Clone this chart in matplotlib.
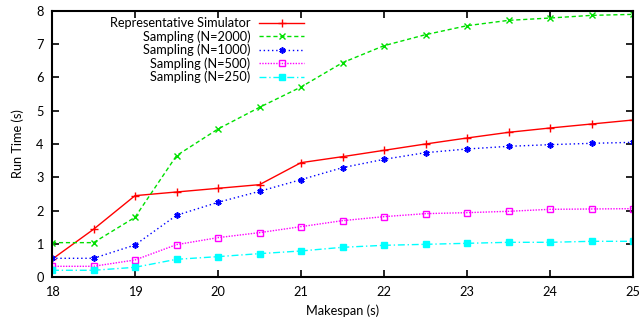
import matplotlib
matplotlib.use("Agg")
import matplotlib.pyplot as plt

plt.rcParams["font.family"] = ["Lato", "DejaVu Sans"]
plt.rcParams["font.size"] = 9.2

# --- Data ---
makespan = [18, 18.5, 19, 19.5, 20, 20.5, 21, 21.5, 22, 22.5, 23, 23.5, 24, 24.5, 25]
rep_sim = [0.54, 1.44, 2.45, 2.56, 2.67, 2.78, 3.44, 3.62, 3.81, 4.00, 4.18, 4.35, 4.48, 4.60, 4.72]
samp_2000 = [1.04, 1.04, 1.80, 3.65, 4.45, 5.10, 5.71, 6.44, 6.95, 7.28, 7.55, 7.71, 7.78, 7.86, 7.89]
samp_1000 = [0.57, 0.57, 0.97, 1.86, 2.25, 2.58, 2.93, 3.29, 3.54, 3.74, 3.85, 3.93, 3.98, 4.02, 4.05]
samp_500 = [0.33, 0.33, 0.52, 0.98, 1.19, 1.34, 1.52, 1.70, 1.82, 1.91, 1.94, 1.98, 2.04, 2.05, 2.06]
samp_250 = [0.21, 0.21, 0.30, 0.54, 0.62, 0.71, 0.79, 0.90, 0.96, 0.99, 1.02, 1.05, 1.05, 1.08, 1.08]

fig = plt.figure(figsize=(6.4, 3.25), dpi=100)
ax = fig.add_axes([52 / 640, 1 - 277.3 / 325, 581 / 640, 266.6 / 325])

ax.plot(makespan, rep_sim, color="red", lw=1, ls="-", marker="+", ms=6,
        label="Representative Simulator")
ax.plot(makespan, samp_2000, color="#00e000", lw=1, ls=(0, (3, 2)), marker="x", ms=5,
        label="Sampling (N=2000)")
ax.plot(makespan, samp_1000, color="blue", lw=1, ls=(0, (1, 2)), marker=(6, 2, 0), ms=4.5,
        mew=1.2, label="Sampling (N=1000)")
ax.plot(makespan, samp_500, color="magenta", lw=1, ls=(0, (1, 1)), marker="s", ms=5,
        mfc="none", label="Sampling (N=500)")
ax.plot(makespan, samp_250, color="cyan", lw=1, ls=(0, (5, 2, 1, 2)), marker="s", ms=5,
        label="Sampling (N=250)")

ax.set_xlim(18, 25)
ax.set_ylim(0, 8)
ax.set_xticks(range(18, 26))
ax.set_yticks(range(0, 9))
ax.tick_params(direction="in", top=True, right=True, length=5, width=1.2, pad=6)
for s in ax.spines.values():
    s.set_linewidth(1.5)

ax.set_xlabel("Makespan (s)", labelpad=5)
ax.set_ylabel("Run Time (s)", labelpad=9)

leg = ax.legend(loc="upper right", bbox_to_anchor=(0.445, 1.0), frameon=False,
                markerfirst=False, handlelength=3.5, labelspacing=0.08,
                handletextpad=0.7, borderaxespad=0.3, borderpad=0.2)
# right-align the legend rows like gnuplot
leg._legend_box._children[-1]._children[0].align = "right"

fig.savefig("out.png", dpi=100)
